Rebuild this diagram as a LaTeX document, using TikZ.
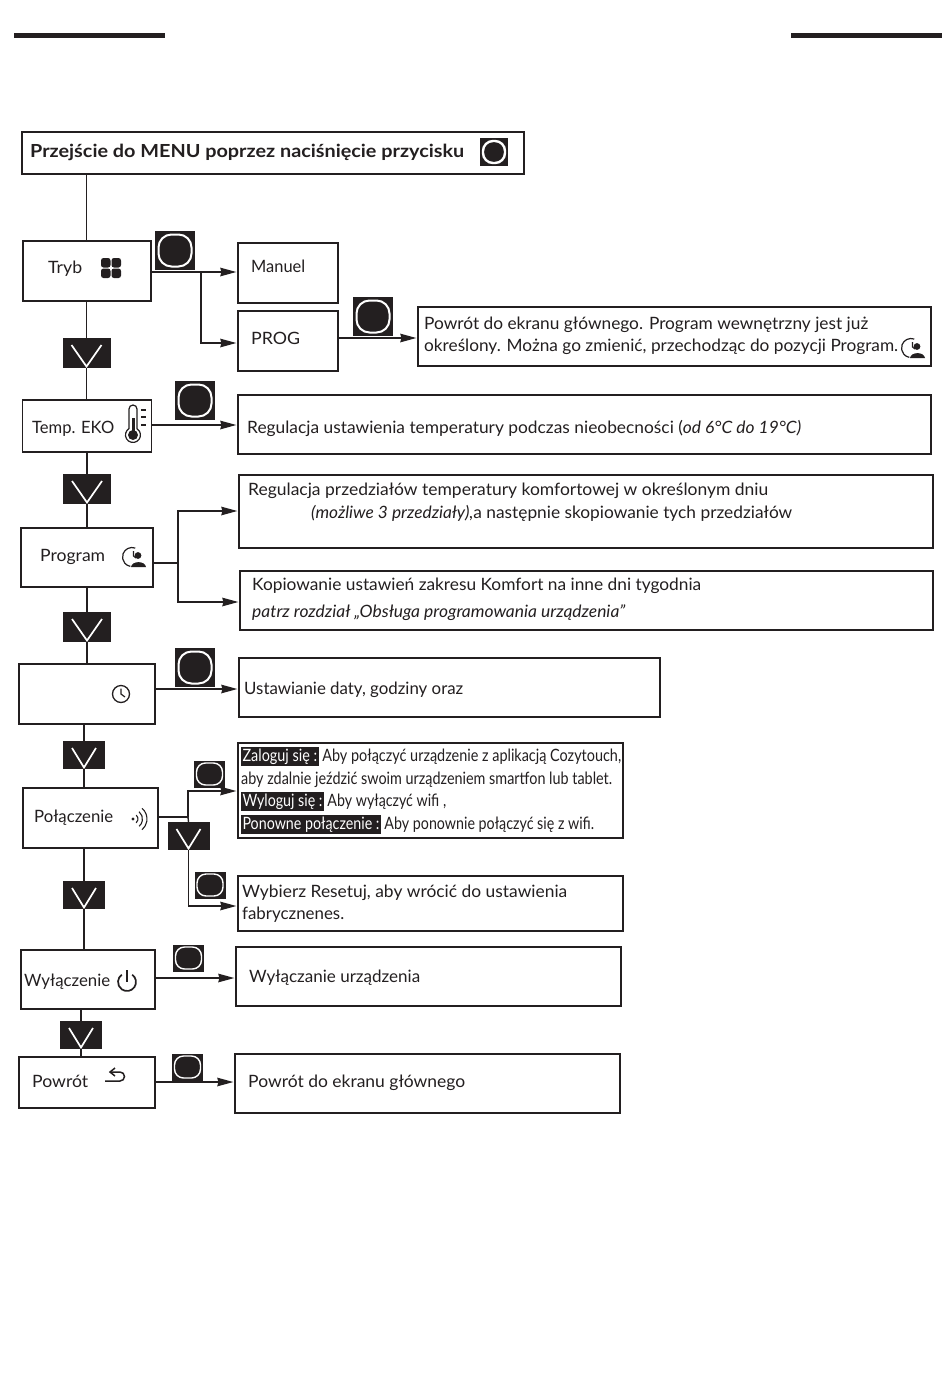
\documentclass[tikz,border=0pt]{standalone}
\usepackage{fontspec}
\usepackage{graphicx}
\setmainfont{Lato}
\usetikzlibrary{arrows.meta}
\definecolor{ink}{HTML}{231F20}
\newcommand{\tw}[2]{\resizebox{#1pt}{\height}{#2}}
\newcommand{\hl}[1]{{\setlength{\fboxsep}{1.6pt}\colorbox{ink}{\color{white}#1}}}
\tikzset{
	box/.style={draw=ink,line width=1.3pt,inner sep=0pt,fill=white},
	lbl/.style={anchor=base west,inner sep=0pt,text=ink,font=\fontsize{17}{20}\selectfont},
	arw/.style={draw=ink,line width=1.4pt,shorten >=1pt,-{Stealth[inset=1pt,length=16pt,width=8.5pt]}},
	lin/.style={draw=ink,line width=1.4pt},
	btn/.style={fill=ink,inner sep=0pt,minimum width=40pt,minimum height=39pt,
		path picture={\draw[white,line width=2pt,rounded corners=13pt]
			([shift={(3.5pt,3.5pt)}]path picture bounding box.south west) rectangle
			([shift={(-3.5pt,-3.5pt)}]path picture bounding box.north east);}},
	smallbtn/.style={fill=ink,inner sep=0pt,minimum width=31pt,minimum height=27pt,
		path picture={\draw[white,line width=1.4pt,rounded corners=9pt]
			([shift={(2.5pt,2.5pt)}]path picture bounding box.south west) rectangle
			([shift={(-2.5pt,-2.5pt)}]path picture bounding box.north east);}},
	menubtn/.style={fill=ink,inner sep=0pt,minimum width=28pt,minimum height=28pt,
		path picture={\draw[white,line width=2.4pt,rounded corners=10pt]
			([shift={(3pt,3pt)}]path picture bounding box.south west) rectangle
			([shift={(-3pt,-3pt)}]path picture bounding box.north east);}},
	chev/.style={fill=ink,inner sep=0pt,minimum width=48pt,minimum height=30pt,
		path picture={\draw[white,line width=1.7pt]
			([shift={(9pt,-7pt)}]path picture bounding box.north west) --
			([shift={(0pt,1.5pt)}]path picture bounding box.south) --
			([shift={(-9pt,-7pt)}]path picture bounding box.north east);}},
	smallchev/.style={chev,minimum width=42pt,minimum height=28pt},
	pics/gridicon/.style={code={
		\foreach \a/\b in {-10/-10,0.5/-10,-10/0.5,0.5/0.5}
			\fill[ink,rounded corners=2.5pt] (\a,\b) rectangle ++(9.5,9.5);}},
	pics/clockicon/.style={code={
		\draw[ink,line width=1.3pt] (0,0) circle (8.5);
		\draw[ink,line width=1.2pt] (0,-5.5) -- (0,0) -- (4,3);}},
	pics/personicon/.style={code={
		\draw[ink,line width=1.2pt] (-1,0) ++(-70:9.5) arc (-70:-260:9.5);
		\draw[ink,line width=1.1pt] (0.5,-6) -- (0.5,-1) -- (3,1);
		\fill[ink] (5,-1.5) circle (3.4);
		\fill[ink] (-2,10) .. controls (-1,3.5) and (12,3.5) .. (13,10) -- cycle;}},
	pics/wifiicon/.style={code={
		\fill[ink] (-6,0) circle (1.6);
		\foreach \r in {5,9.5,14}
			\draw[ink,line width=1.1pt] (-6,0) ++(-50:\r) arc (-50:50:\r);}},
	pics/powericon/.style={code={
		\draw[ink,line width=1.7pt] (0,1) ++(-55:9) arc (-55:235:9);
		\draw[ink,line width=1.9pt] (0,-11) -- (0,1);}},
	pics/backicon/.style={code={
		\draw[ink,line width=1.5pt] (-10,4) -- (5,4) arc (90:-90:4.5) -- (-5,-5);
		\draw[ink,line width=1.5pt] (0,-9) -- (-5,-5) -- (0,-1);}},
	pics/thermoicon/.style={code={
		\draw[ink,line width=1.2pt] (4,-15) arc (0:-180:4) -- (-4,4.6) arc (238:-58:7.5) -- cycle;
		\fill[ink] (0,11) circle (5);
		\fill[ink] (-1.5,-6) rectangle (1.5,11);
		\foreach \b in {-14,-7,1}
			\draw[ink,line width=1.4pt] (8,\b) -- (13,\b);}}
}
\begin{document}
\begin{tikzpicture}[x=1pt,y=-1pt]
	\useasboundingbox (0,0) rectangle (950,1393);
	\fill[ink] (14,33) rectangle (165,38);
	\fill[ink] (791,33) rectangle (942,38);
	% left column
	\node[box,line width=2pt,minimum width=502,minimum height=42] (menu) at (273,153) {};
	\node[box,minimum width=128,minimum height=60] (tryb) at (87,271) {};
	\node[box,minimum width=129,minimum height=52] (temp) at (87,426) {};
	\node[box,minimum width=132,minimum height=59] (prog) at (87,557.5) {};
	\node[box,minimum width=136,minimum height=60] (czas) at (87,694) {};
	\node[box,minimum width=135,minimum height=60] (wifi) at (90.5,818) {};
	\node[box,minimum width=134,minimum height=59] (wyl) at (88,979.5) {};
	\node[box,minimum width=136,minimum height=51] (back) at (87,1082.5) {};
	% right column
	\node[box,minimum width=100,minimum height=60] (manuel) at (288,273) {};
	\node[box,minimum width=100,minimum height=60] (progm) at (288,341) {};
	\node[box,minimum width=513,minimum height=59] (powrot) at (674.5,336.5) {};
	\node[box,minimum width=693,minimum height=59] (regul) at (584.5,424.5) {};
	\node[box,minimum width=694,minimum height=73] (przedz) at (586,511.5) {};
	\node[box,minimum width=693,minimum height=59] (kopia) at (586.5,600.5) {};
	\node[box,minimum width=421,minimum height=59] (data) at (449.5,687.5) {};
	\node[box,minimum width=385,minimum height=95] (login) at (430.5,790.5) {};
	\node[box,minimum width=385,minimum height=55] (reset) at (430.5,903.5) {};
	\node[box,minimum width=385,minimum height=59] (wylacz) at (428.5,976.5) {};
	\node[box,minimum width=385,minimum height=59] (ekran) at (427.5,1083.5) {};
	% buttons and chevrons
	\node[chev] (chevtryb) at (86.5,353) {};
	\node[chev] (chevtemp) at (87,489) {};
	\node[chev] (chevprog) at (87,627) {};
	\node[smallchev] (chevczas) at (84,755) {};
	\node[smallchev] (chevwifi) at (188.5,836) {};
	\node[smallchev] (chevpol) at (84,895) {};
	\node[smallchev] (chevwyl) at (81,1035) {};
	\node[btn] (btntryb) at (175,250.5) {};
	\node[btn] (btnprog) at (373,316.5) {};
	\node[btn] (btntemp) at (195,400.5) {};
	\node[btn] (btnczas) at (195,667.5) {};
	\node[smallbtn] (btnwifi) at (209.5,774) {};
	\node[smallbtn] (btnreset) at (210,885) {};
	\node[smallbtn] (btnwyl) at (188.5,958) {};
	\node[smallbtn] (btnback) at (187.5,1067) {};
	\node[menubtn] (btnmenu) at (494,152) {};
	% connectors
	\draw[lin] (chevtryb.north |- menu.south) -- (chevtryb.north |- tryb.north);
	\draw[lin] (chevtryb.north |- tryb.south) -- (chevtryb.north);
	\draw[lin] (chevtryb.south) -- (chevtryb.south |- temp.north);
	\draw[lin] (chevtemp.north |- temp.south) -- (chevtemp.north);
	\draw[lin] (chevtemp.south) -- (chevtemp.south |- prog.north);
	\draw[lin] (chevprog.north |- prog.south) -- (chevprog.north);
	\draw[lin] (chevprog.south) -- (chevprog.south |- czas.north);
	\draw[lin] (chevczas.north |- czas.south) -- (chevczas.north);
	\draw[lin] (chevczas.south) -- (chevczas.south |- wifi.north);
	\draw[lin] (chevpol.north |- wifi.south) -- (chevpol.north);
	\draw[lin] (chevpol.south) -- (chevpol.south |- wyl.north);
	\draw[lin] (chevwyl.north |- wyl.south) -- (chevwyl.north);
	\draw[lin] (chevwyl.south) -- (chevwyl.south |- back.north);
	\coordinate (jtryb) at (201,272);
	\coordinate (jprog) at (178,563);
	\coordinate (jwifi) at (188,817);
	\draw[arw] (jtryb -| tryb.east) -- (manuel.west |- jtryb);
	\draw[arw] (jtryb) |- (progm.west |- 0,343);
	\draw[arw] (progm.east |- 0,338) -- (powrot.west |- 0,338);
	\draw[arw] (temp.east |- 0,425) -- (regul.west |- 0,425);
	\draw[lin] (jprog -| prog.east) -- (jprog);
	\draw[arw] (jprog) |- (przedz.west |- 0,511);
	\draw[arw] (jprog) |- (kopia.west |- 0,602);
	\draw[arw] (czas.east |- 0,689) -- (data.west |- 0,689);
	\draw[lin] (jwifi -| wifi.east) -- (jwifi);
	\draw[arw] (jwifi) |- (login.west |- 0,791);
	\draw[lin] (jwifi) -- (chevwifi.north);
	\draw[arw] (chevwifi.south) |- (reset.west |- 0,906);
	\draw[arw] (wyl.east |- 0,978) -- (wylacz.west |- 0,978);
	\draw[arw] (back.east |- 0,1082) -- (ekran.west |- 0,1082);
	% labels
	\node[lbl,font=\fontsize{18}{20}\selectfont\bfseries] (tmenu) at (30,157) {\tw{434}{Przejście do MENU poprzez naciśnięcie przycisku}};
	\node[lbl] (ttryb) at (48,273) {\tw{34}{Tryb}};
	\node[lbl] (tmanuel) at (251,272) {\tw{54}{Manuel}};
	\node[lbl] (tprogm) at (251,344) {\tw{49}{PROG}};
	\node[lbl] (tpowa) at (424,329) {\tw{444}{Powrót do ekranu głównego. Program wewnętrzny jest już}};
	\node[lbl] (tpowb) at (424,351) {\tw{474}{określony. Można go zmienić, przechodząc do pozycji Program.}};
	\node[lbl] (ttemp) at (32,433) {\tw{82}{Temp. EKO}};
	\node[lbl] (tregul) at (247,433) {\tw{554}{Regulacja ustawienia temperatury podczas nieobecności (\textit{od 6°C do 19°C)}}};
	\node[lbl] (tprza) at (248,495) {\tw{520}{Regulacja przedziałów temperatury komfortowej w określonym dniu}};
	\node[lbl] (tprzb) at (311,518) {\tw{481}{\textit{(możliwe 3 przedziały),}a następnie skopiowanie tych przedziałów}};
	\node[lbl] (tkopa) at (252,590) {\tw{449}{Kopiowanie ustawień zakresu Komfort na inne dni tygodnia}};
	\node[lbl] (tkopb) at (252,617) {\tw{373}{\textit{patrz rozdział „Obsługa programowania urządzenia”}}};
	\node[lbl] (tprog) at (40,561) {\tw{65}{Program}};
	\node[lbl] (tdata) at (244,694) {\tw{219}{Ustawianie daty, godziny oraz}};
	\node[lbl] (twifi) at (34,822) {\tw{79}{Połączenie}};
	\node[lbl] (tloga) at (241,761) {\tw{380}{\hl{Zaloguj się :} Aby połączyć urządzenie z aplikacją Cozytouch,}};
	\node[lbl] (tlogb) at (241,784) {\tw{371}{aby zdalnie jeździć swoim urządzeniem smartfon lub tablet.}};
	\node[lbl] (tlogc) at (241,806) {\tw{205}{\hl{Wyloguj się :} Aby wyłączyć wifi ,}};
	\node[lbl] (tlogd) at (241,829) {\tw{353}{\hl{Ponowne połączenie :} Aby ponownie połączyć się z wifi.}};
	\node[lbl] (tresa) at (242,897) {\tw{325}{Wybierz Resetuj, aby wrócić do ustawienia}};
	\node[lbl] (tresb) at (242,919) {\tw{102}{fabrycznenes.}};
	\node[lbl] (twyl) at (24,986) {\tw{86}{Wyłączenie}};
	\node[lbl] (twylacz) at (249,982) {\tw{171}{Wyłączanie urządzenia}};
	\node[lbl] (tback) at (32,1087) {\tw{56}{Powrót}};
	\node[lbl] (tekran) at (248,1087) {\tw{217}{Powrót do ekranu głównego}};
	% icons
	\pic at (111,268) {gridicon};
	\pic at (133,424) {thermoicon};
	\pic at (133,557) {personicon};
	\pic at (912,348) {personicon};
	\pic at (121,694) {clockicon};
	\pic at (139,819) {wifiicon};
	\pic at (127,981) {powericon};
	\pic at (115,1077) {backicon};
\end{tikzpicture}
\end{document}
